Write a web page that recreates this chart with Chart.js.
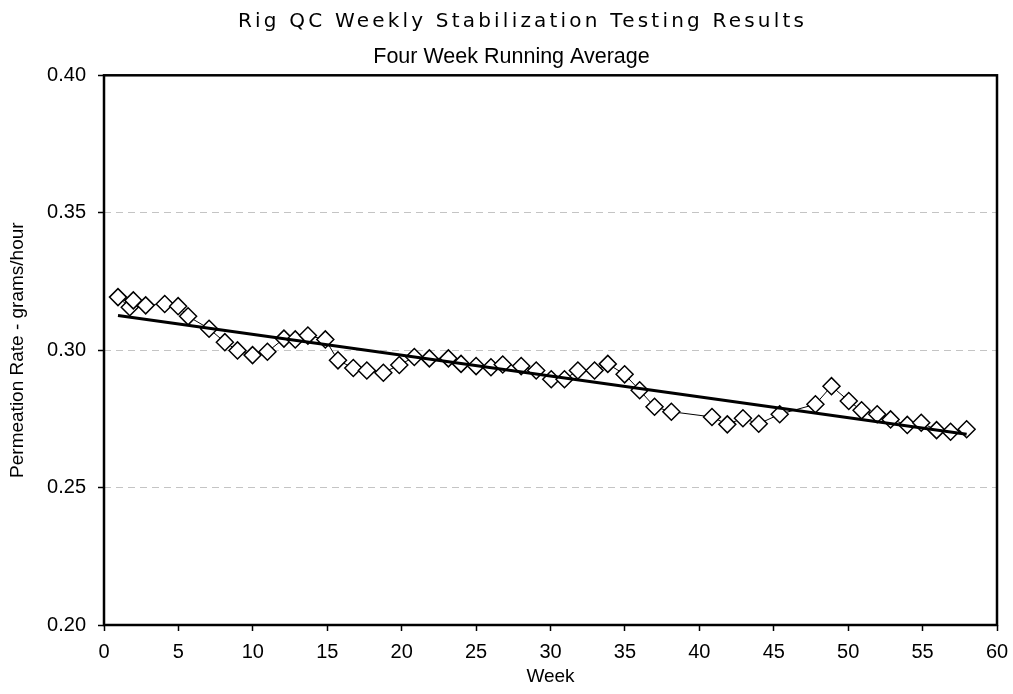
<!DOCTYPE html>
<html><head><meta charset="utf-8">
<script src="https://cdn.jsdelivr.net/npm/chart.js@4"></script>
<style>html,body{margin:0;padding:0;background:#fff}#wrap{width:1013px;height:694px;position:relative}</style>
</head><body><div id="wrap"><canvas id="c"></canvas></div>
<script>
const titleText = 'Rig QC Weekly Stabilization Testing Results';
const subtitleText = 'Four Week Running Average';
const xAxisLabel = 'Week';
const yAxisLabel = 'Permeation Rate - grams/hour';

const weeks = [0.94,1.73,1.97,2.80,4.08,4.98,5.65,7.06,8.12,8.97,
  9.98,10.98,12.09,12.85,13.70,14.87,15.72,16.75,17.66,18.77,
  19.84,20.85,21.86,23.14,23.99,25.00,26.00,26.79,28.03,29.04,
  30.05,30.94,31.84,32.96,33.85,34.98,35.99,36.99,38.12,40.85,
  41.88,42.93,43.99,45.40,47.80,48.88,50.04,50.90,51.95,52.85,
  53.97,54.91,55.94,56.88,57.96];
const rates = [0.3193,0.3156,0.3181,0.3163,0.3168,0.3160,0.3123,0.3078,0.3029,0.2999,
  0.2982,0.2994,0.3042,0.3039,0.3053,0.3039,0.2963,0.2935,0.2926,0.2918,
  0.2946,0.2975,0.2970,0.2970,0.2950,0.2942,0.2938,0.2948,0.2942,0.2926,
  0.2894,0.2894,0.2926,0.2926,0.2950,0.2912,0.2854,0.2794,0.2776,0.2757,
  0.2730,0.2752,0.2732,0.2767,0.2803,0.2869,0.2815,0.2781,0.2767,0.2748,
  0.2728,0.2736,0.2709,0.2703,0.2712];
const trendWeeks = [0.94, 57.96];
const trendRates = [0.3126, 0.2694];

const xMin = 0, xMax = 60, xStep = 5;
const yMin = 0.20, yMax = 0.40, yStep = 0.05;

const framePlugin = {
  id: 'frame',
  afterDatasetsDraw(chart) {
    const {ctx, chartArea: a} = chart;
    ctx.save();
    ctx.strokeStyle = '#000';
    ctx.lineWidth = 2.5;
    ctx.strokeRect(a.left, a.top, a.right - a.left, a.bottom - a.top);
    ctx.restore();
  }
};
function patchBox(box, spacing, dx) {
  if (!box || box._patched) return;
  const orig = box.draw;
  box.draw = function(area) {
    const ctx = this.ctx;
    ctx.save();
    ctx.letterSpacing = spacing;
    ctx.translate(dx, 0);
    orig.call(this, area);
    ctx.restore();
  };
  box._patched = true;
}
const titleTweak = {
  id: 'titleTweak',
  afterLayout(chart) {
    patchBox(chart.titleBlock, '3.2px', 16);
    const sub = chart.boxes.find(b => b !== chart.titleBlock && b.options && b.options.text === subtitleText);
    patchBox(sub, '0px', 5);
  }
};

const tickFont = {family: 'Liberation Sans', size: 20};
const axisFont = {family: 'Liberation Sans', size: 19};

new Chart(document.getElementById('c'), {
  type: 'scatter',
  data: {
    datasets: [
      {
        label: 'Trend',
        data: trendWeeks.map((x, i) => ({x, y: trendRates[i]})),
        showLine: true,
        borderColor: '#000',
        borderWidth: 3,
        pointRadius: 0,
        tension: 0
      },
      {
        label: 'Four Week Running Average',
        data: weeks.map((x, i) => ({x, y: rates[i]})),
        showLine: true,
        borderColor: '#000',
        borderWidth: 1,
        pointStyle: 'rectRot',
        pointRadius: 8.5,
        pointBorderWidth: 1.5,
        pointBackgroundColor: '#fff',
        pointBorderColor: '#000',
        tension: 0
      }
    ]
  },
  options: {
    responsive: true,
    maintainAspectRatio: false,
    animation: false,
    devicePixelRatio: 1,
    layout: {padding: {left: 0, right: 0, top: 0, bottom: 0}},
    plugins: {
      legend: {display: false},
      tooltip: {enabled: false},
      title: {
        display: true, text: titleText, color: '#000',
        font: {family: 'DejaVu Sans', size: 20, weight: 'normal'},
        padding: {top: 10, bottom: 10}
      },
      subtitle: {
        display: true, text: subtitleText, color: '#000',
        font: {family: 'Liberation Sans', size: 21.5, weight: 'normal'},
        padding: {top: 0, bottom: 5.5}
      }
    },
    scales: {
      x: {
        type: 'linear', min: xMin, max: xMax,
        ticks: {stepSize: xStep, color: '#000', font: tickFont, padding: 9, maxRotation: 0},
        grid: {drawOnChartArea: false, drawTicks: true, tickLength: 6, tickColor: '#000', tickWidth: 1.5},
        border: {display: false},
        title: {display: true, text: xAxisLabel, color: '#000', font: axisFont, padding: {top: 0, bottom: 6}},
        afterFit(s) { s.height = 69; s.paddingRight = 16; s.paddingLeft = 0; }
      },
      y: {
        type: 'linear', min: yMin, max: yMax,
        ticks: {stepSize: yStep, color: '#000', font: tickFont, padding: 12,
          callback: v => Number(v).toFixed(2)},
        grid: {
          color: c => (c.tick && (Math.abs(c.tick.value - yMin) < 1e-6 || Math.abs(c.tick.value - yMax) < 1e-6)) ? 'rgba(0,0,0,0)' : '#c4c4c4',
          lineWidth: 1, tickLength: 6, tickColor: '#000', tickWidth: 1.5
        },
        border: {display: false, dash: [7, 5]},
        title: {display: true, text: yAxisLabel, color: '#000', font: axisFont, padding: {top: 6, bottom: 0}},
        afterFit(s) { s.width = 104; }
      }
    }
  },
  plugins: [framePlugin, titleTweak]
});
</script>
</body></html>
